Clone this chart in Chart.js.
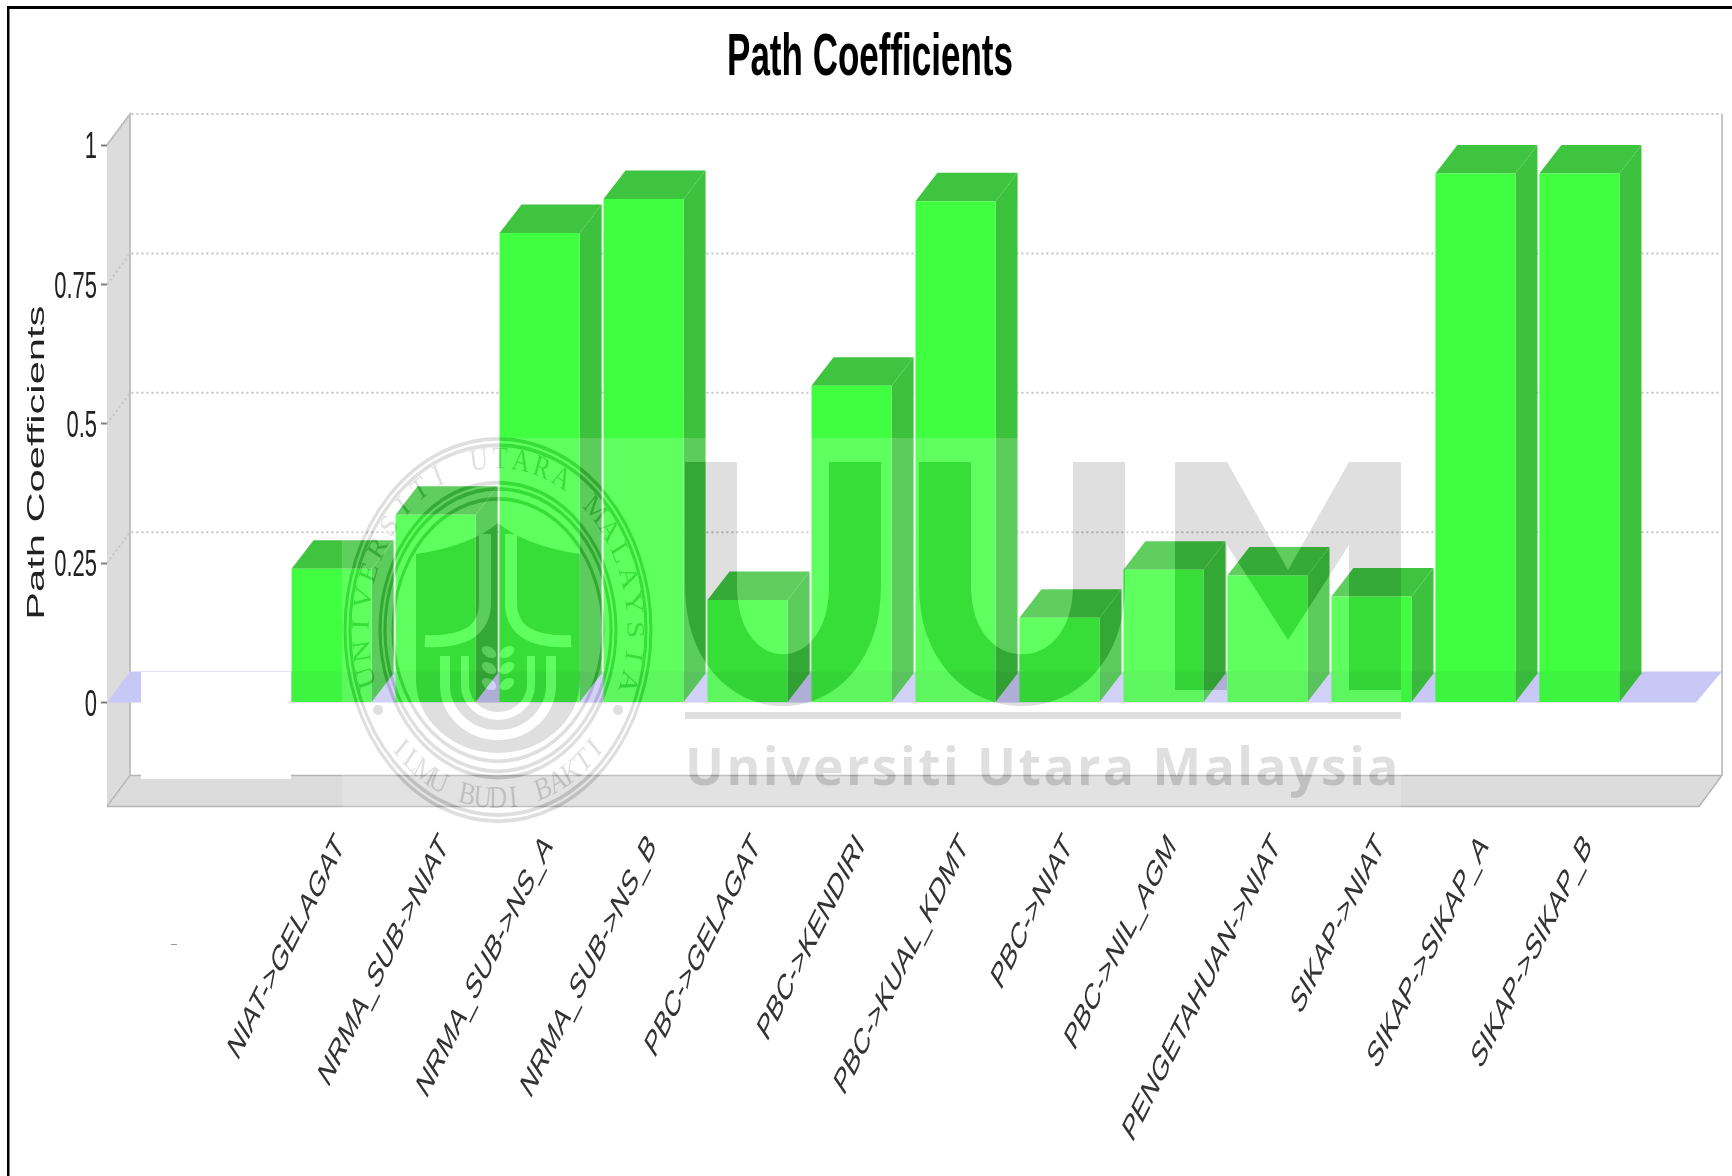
<!DOCTYPE html>
<html>
<head>
<meta charset="utf-8">
<title>Path Coefficients</title>
<script src="https://cdn.jsdelivr.net/npm/chart.js@4"></script>
<style>
  html, body { margin: 0; background: #fff; }
  canvas { display: block; filter: blur(0.7px); }
</style>
</head>
<body>
<canvas id="c" width="1732" height="1176"></canvas>
<script>
const categories = ['NIAT->GELAGAT', 'NRMA_SUB->NIAT', 'NRMA_SUB->NS_A', 'NRMA_SUB->NS_B', 'PBC->GELAGAT', 'PBC->KENDIRI', 'PBC->KUAL_KDMT', 'PBC->NIAT', 'PBC->NIL_AGM', 'PENGETAHUAN->NIAT', 'SIKAP->NIAT', 'SIKAP->SIKAP_A', 'SIKAP->SIKAP_B'];
const pathValues = [0.24, 0.337, 0.842, 0.903, 0.184, 0.568, 0.899, 0.152, 0.238, 0.228, 0.19, 0.949, 0.949];
const yTicks = [0, 0.25, 0.5, 0.75, 1];

const WALL = { dx: 23, dy: 31 };
const BAR = { dx: 22, dy: 28.5 };
const ctx = document.getElementById('c').getContext('2d');

// the source image is stretched vertically, so every label gets the same stretch round its anchor
const K = 1.7;
const nativeText = ctx.fillText;
ctx.fillText = function (t, x, y) {
  const m = this.getTransform();
  const ax = m.a * x + m.c * y + m.e;
  const ay = m.b * x + m.d * y + m.f;
  // chart title sits right of centre, axis title above centre in the source
  const isTitle = this.font.startsWith('bold');
  const px = ax + (isTitle ? 9 : 0);
  const py = ay - (Math.abs(m.a) < 0.01 ? 13 : 0) + (isTitle ? 2 : 0);
  this.save();
  this.setTransform(new DOMMatrix().translate(px, py).scale(1, K).translate(-ax, -ay).multiply(m));
  nativeText.call(this, t, x, y);
  this.restore();
};

function poly(c, pts, fill) {
  c.beginPath();
  pts.forEach((p, i) => (i ? c.lineTo(p[0], p[1]) : c.moveTo(p[0], p[1])));
  c.closePath();
  if (fill) { c.fillStyle = fill; c.fill(); }
}

function arcText(c, text, from, to, r) {
  c.textAlign = 'center'; c.textBaseline = 'middle';
  [...text].forEach((ch, i) => {
    c.save();
    c.rotate(from + (to - from) * i / (text.length - 1));
    c.translate(0, r);
    c.fillText(ch, 0, 0);
    c.restore();
  });
}

function stroke(c, width, path) {
  c.lineWidth = width;
  c.beginPath();
  path(c);
  c.stroke();
}

// university emblem in the middle of the seal: a dark body with light lines cut out
function emblem(c) {
  c.beginPath();
  c.moveTo(-82, -76);
  c.quadraticCurveTo(-28, -84, 0, -107);
  c.quadraticCurveTo(28, -84, 82, -76);
  c.lineTo(82, 50);
  c.ellipse(0, 50, 82, 73, 0, 0, Math.PI);
  c.closePath();
  c.fill();
  c.globalCompositeOperation = 'destination-out';
  c.lineCap = 'butt';
  [-1, 1].forEach((s) => {
    stroke(c, 12, (p) => { p.moveTo(s * 13, -96); p.lineTo(s * 13, -25); p.quadraticCurveTo(s * 15, 14, s * 73, 11); });
    [-1, 0, 1].forEach((n) => {
      c.beginPath();
      c.ellipse(s * 9, 38 + n * 16, 8, 5, s * -0.6, 0, Math.PI * 2);
      c.fill();
    });
  });
  stroke(c, 10, (p) => { p.moveTo(-53, 26); p.lineTo(-53, 55); p.ellipse(0, 55, 53, 50, 0, Math.PI, 0, true); p.lineTo(53, 26); });
  stroke(c, 8, (p) => { p.moveTo(-33, 26); p.lineTo(-33, 55); p.ellipse(0, 55, 33, 31, 0, Math.PI, 0, true); p.lineTo(33, 26); });
  c.globalCompositeOperation = 'source-over';
}

function watermarkShapes(c) {
  c.fillStyle = '#000'; c.strokeStyle = '#000'; c.lineCap = 'butt';
  // big letters
  stroke(c, 52, (p) => { p.moveTo(711, 462); p.lineTo(711, 585); p.bezierCurveTo(711, 712, 855, 712, 855, 585); p.lineTo(855, 462); });
  stroke(c, 52, (p) => { p.moveTo(945, 462); p.lineTo(945, 585); p.bezierCurveTo(945, 712, 1099, 712, 1099, 585); p.lineTo(1099, 462); });
  poly(c, [[1175, 462], [1227, 462], [1288, 570], [1349, 462], [1401, 462], [1401, 690], [1349, 690], [1349, 545], [1288, 640], [1227, 545], [1227, 690], [1175, 690]], '#000');
  // rule and name
  c.fillRect(685, 712, 716, 7);
  c.font = 'bold 52px "Open Sans"';
  c.letterSpacing = '2.5px';
  c.textAlign = 'left'; c.textBaseline = 'alphabetic';
  c.fillText('Universiti Utara Malaysia', 685, 785, 716);
  c.letterSpacing = '0px';
  // seal
  c.save();
  c.translate(498, 630);
  emblem(c);
  [-120, 120].forEach((x) => { c.beginPath(); c.arc(x, 80, 5, 0, Math.PI * 2); c.fill(); });
  c.scale(1, 1.25);
  [153, 148, 118, 113, 105].forEach((r) => stroke(c, 3, (p) => p.arc(0, 0, r, 0, Math.PI * 2)));
  c.font = '25px "Liberation Serif"';
  arcText(c, 'UNIVERSITI UTARA MALAYSIA', -1.85, 1.88, -136);
  arcText(c, 'ILMU BUDI BAKTI', 0.8, -0.8, 136);
  c.restore();
}

function watermark(c) {
  const layer = () => {
    const el = document.createElement('canvas');
    el.width = c.canvas.width; el.height = c.canvas.height;
    return el;
  };
  const shapes = layer(), veil = layer();
  watermarkShapes(shapes.getContext('2d'));
  // the white veil lightens everything except the dark marks of the logo
  const v = veil.getContext('2d');
  v.fillStyle = 'rgba(255,255,255,0.17)';
  v.fillRect(342, 438, 1059, 385);
  v.globalCompositeOperation = 'destination-out';
  v.drawImage(shapes, 0, 0);
  c.save();
  c.drawImage(veil, 0, 0);
  c.globalAlpha = 0.125;
  c.drawImage(shapes, 0, 0);
  c.restore();
}

const scene3d = {
  id: 'scene3d',
  beforeDatasetsDraw(chart) {
    const c = chart.ctx, a = chart.chartArea, y = chart.scales.y;
    const w = WALL, zero = y.getPixelForValue(0);
    c.save();
    // frame of the picture
    c.fillStyle = '#000';
    c.fillRect(7, 6, 1725, 3);
    c.fillRect(7, 6, 2.5, 1170);
    // walls and floor
    poly(c, [[a.left, a.top], [a.left + w.dx, a.top - w.dy], [a.left + w.dx, a.bottom - w.dy], [a.left, a.bottom]], '#dcdcdc');
    poly(c, [[a.left, a.bottom], [a.left + w.dx, a.bottom - w.dy], [a.right + w.dx, a.bottom - w.dy], [a.right, a.bottom]], '#dcdcdc');
    c.strokeStyle = '#b4b4b4'; c.lineWidth = 1.5;
    c.beginPath();
    c.moveTo(a.left, a.top); c.lineTo(a.left + w.dx, a.top - w.dy); c.lineTo(a.left + w.dx, a.bottom - w.dy);
    c.lineTo(a.right + w.dx, a.bottom - w.dy); c.lineTo(a.right + w.dx, a.top - w.dy);
    c.moveTo(a.left, a.bottom); c.lineTo(a.right, a.bottom); c.lineTo(a.right + w.dx, a.bottom - w.dy);
    c.moveTo(a.left, a.bottom); c.lineTo(a.left + w.dx, a.bottom - w.dy);
    c.stroke();
    // dotted gridlines on the walls
    c.setLineDash([2, 3]);
    c.strokeStyle = '#c4c4c4'; c.lineWidth = 2;
    yTicks.slice(1).forEach((t) => {
      const p = y.getPixelForValue(t);
      c.beginPath(); c.moveTo(a.left, p); c.lineTo(a.left + w.dx, p - w.dy); c.lineTo(a.right + w.dx, p - w.dy); c.stroke();
    });
    c.setLineDash([]);
    // plane at zero
    poly(c, [[a.left, zero], [a.left + w.dx, zero - w.dy], [a.right + w.dx, zero - w.dy], [a.right - 3, zero]], '#d2d2ff');
    // bar sides and tops
    chart.getDatasetMeta(0).data.forEach((b) => {
      const l = b.x - b.width / 2, r = b.x + b.width / 2;
      poly(c, [[r, b.y], [r + BAR.dx, b.y - BAR.dy], [r + BAR.dx, b.base - BAR.dy], [r, b.base]], '#3cc23c');
      poly(c, [[l, b.y], [l + BAR.dx, b.y - BAR.dy], [r + BAR.dx, b.y - BAR.dy], [r, b.y]], '#3fc43f');
    });
    c.restore();
  },
  afterDatasetsDraw(chart) {
    const c = chart.ctx, a = chart.chartArea, w = WALL, zero = chart.scales.y.getPixelForValue(0);
    c.save();
    // plane shows faintly through the bars
    poly(c, [[a.left, zero], [a.left + w.dx, zero - w.dy], [a.right + w.dx, zero - w.dy], [a.right - 3, zero]], 'rgba(0,0,40,0.045)');
    // erased patch on the left of the picture
    c.fillStyle = '#fff';
    c.fillRect(141, 672, 150, 107);
    c.fillStyle = '#999';
    c.fillRect(171, 944, 6, 1);
    c.restore();
  },
  afterDraw(chart) { watermark(chart.ctx); }
};

new Chart(ctx, {
  type: 'bar',
  data: {
    datasets: [{
      label: 'Path Coefficients',
      data: pathValues.map((v, i) => ({ x: i, y: v })),
      backgroundColor: '#40ff40',
      borderWidth: 0,
      barPercentage: 0.77,
      categoryPercentage: 1
    }]
  },
  options: {
    responsive: false,
    animation: false,
    layout: { padding: { left: 23, right: 33, top: 0, bottom: 0 } },
    plugins: {
      legend: { display: false },
      tooltip: { enabled: false },
      title: {
        display: true,
        text: 'Path Coefficients',
        color: '#000',
        font: { family: '"Liberation Sans"', size: 35, weight: 'bold', lineHeight: 1.2 },
        padding: { top: 36, bottom: 67 }
      }
    },
    scales: {
      x: {
        type: 'linear',
        offset: false,
        min: -2.16,
        max: 13.15,
        afterBuildTicks: (s) => { s.ticks = categories.map((_, i) => ({ value: i })); },
        afterFit: (s) => { s.height = 369.6; },
        border: { display: false },
        grid: { display: false },
        ticks: {
          autoSkip: false,
          minRotation: 49.5,
          maxRotation: 49.5,
          padding: 18,
          labelOffset: 9,
          color: '#333',
          font: { family: '"Liberation Sans"', size: 21.5 },
          callback: (v) => categories[v]
        }
      },
      y: {
        min: -0.1863,
        max: 1,
        afterBuildTicks: (s) => { s.ticks = yTicks.map((v) => ({ value: v })); },
        afterFit: (s) => { s.width = 84; },
        border: { display: false },
        grid: { drawOnChartArea: false, drawTicks: true, tickLength: 6, tickColor: '#808080', tickWidth: 2 },
        title: {
          display: true,
          text: 'Path Coefficients',
          color: '#222',
          font: { family: '"Liberation Sans"', size: 24.5 },
          padding: 0
        },
        ticks: {
          padding: 4,
          labelOffset: 3,
          color: '#222',
          font: { family: '"Liberation Sans"', size: 22 },
          callback: (v) => String(v)
        }
      }
    }
  },
  plugins: [scene3d]
});
</script>
</body>
</html>
